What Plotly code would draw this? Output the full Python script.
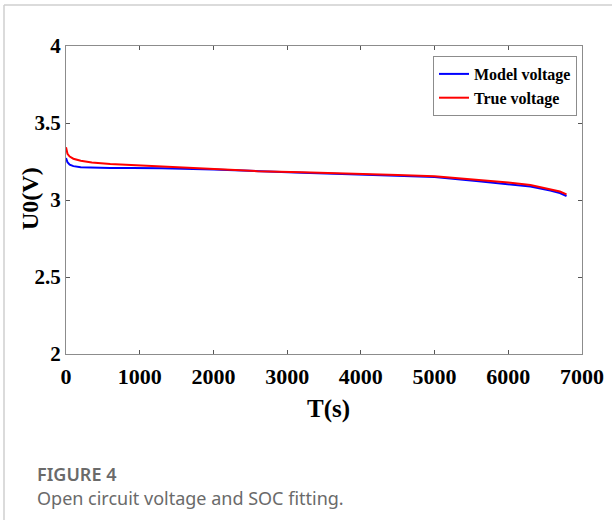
import plotly.graph_objects as go

# ---- data ----
time_s = [0, 20, 50, 100, 200, 350, 600, 900, 1300, 2000, 2600, 3200, 3850,
          4500, 5000, 5600, 6000, 6300, 6570, 6700, 6790]
true_voltage = [3.342, 3.300, 3.282, 3.268, 3.255, 3.243, 3.233, 3.226, 3.216,
                3.200, 3.187, 3.180, 3.173, 3.163, 3.155, 3.131, 3.113, 3.097,
                3.071, 3.055, 3.037]
model_voltage = [3.272, 3.245, 3.230, 3.220, 3.213, 3.210, 3.208, 3.207, 3.206,
                 3.198, 3.186, 3.177, 3.167, 3.157, 3.149, 3.121, 3.104, 3.088,
                 3.062, 3.045, 3.026]
x_ticks = [0, 1000, 2000, 3000, 4000, 5000, 6000, 7000]
y_ticks = [2, 2.5, 3, 3.5, 4]
y_tick_text = ["2", "2.5", "3", "3.5", "4"]

W, H = 612, 520
L, R, T, B = 66, 30, 46, 166
pw, ph = W - L - R, H - T - B


def px(x):
    return (x - L) / pw


def py(y):
    return (H - B - y) / ph


fig = go.Figure()
fig.add_trace(go.Scatter(x=time_s, y=model_voltage, mode="lines",
                         name="Model voltage",
                         line=dict(color="#0000ff", width=2)))
fig.add_trace(go.Scatter(x=time_s, y=true_voltage, mode="lines",
                         name="True voltage",
                         line=dict(color="#ff0000", width=2)))

serif = "Liberation Serif"
axis_common = dict(showgrid=False, zeroline=False, showline=True,
                   linecolor="#8c8c8c", linewidth=1, mirror="ticks",
                   ticks="inside", ticklen=4, tickcolor="#555555", tickwidth=1,
                   automargin=False)

fig.update_xaxes(range=[0, 7000], tickvals=x_ticks,
                 tickfont=dict(family=serif, size=22, color="black", weight="bold"),
                 ticklabelstandoff=3, **axis_common)
fig.update_yaxes(range=[2, 4], tickvals=y_ticks, ticktext=y_tick_text,
                 tickfont=dict(family=serif, size=21, color="black", weight="bold"),
                 ticklabelstandoff=0, **axis_common)

fig.update_layout(
    width=W, height=H,
    margin=dict(l=L, r=R, t=T, b=B),
    paper_bgcolor="white", plot_bgcolor="white",
    showlegend=True,
    legend=dict(x=px(577), y=py(56), xanchor="right", yanchor="top",
                bgcolor="white", bordercolor="#8c8c8c", borderwidth=1,
                font=dict(family=serif, size=16, color="black", weight="bold"),
                itemwidth=30, tracegroupgap=0),
)

# axis titles
fig.add_annotation(text="T(s)", xref="paper", yref="paper",
                   x=px(328), y=py(409), xanchor="center", yanchor="middle",
                   showarrow=False,
                   font=dict(family=serif, size=25, color="black", weight="bold"))
fig.add_annotation(text="U0(V)", xref="paper", yref="paper",
                   x=px(30), y=py(199), xanchor="center", yanchor="middle",
                   textangle=-90, showarrow=False,
                   font=dict(family=serif, size=24, color="black", weight="bold"))

# caption
fig.add_annotation(text="FIGURE 4", xref="paper", yref="paper",
                   x=px(35), y=py(474), xanchor="left", yanchor="middle",
                   showarrow=False,
                   font=dict(family="Noto Sans", size=18, color="#6a6a6a", weight=600))
fig.add_annotation(text="Open circuit voltage and SOC fitting.", xref="paper", yref="paper",
                   x=px(35), y=py(498), xanchor="left", yanchor="middle",
                   showarrow=False,
                   font=dict(family="Noto Sans", size=18, color="#6a6a6a"))

# outer frame lines (top and left)
fig.add_shape(type="line", xref="paper", yref="paper",
              x0=px(4), x1=px(612), y0=py(5), y1=py(5),
              line=dict(color="#cfcfcf", width=1.5))
fig.add_shape(type="line", xref="paper", yref="paper",
              x0=px(4), x1=px(4), y0=py(5), y1=py(520),
              line=dict(color="#cfcfcf", width=1.5))

fig.write_html("out.html", config={"displayModeBar": False},
               post_script="document.body.style.margin='0';document.body.style.padding='0';")
